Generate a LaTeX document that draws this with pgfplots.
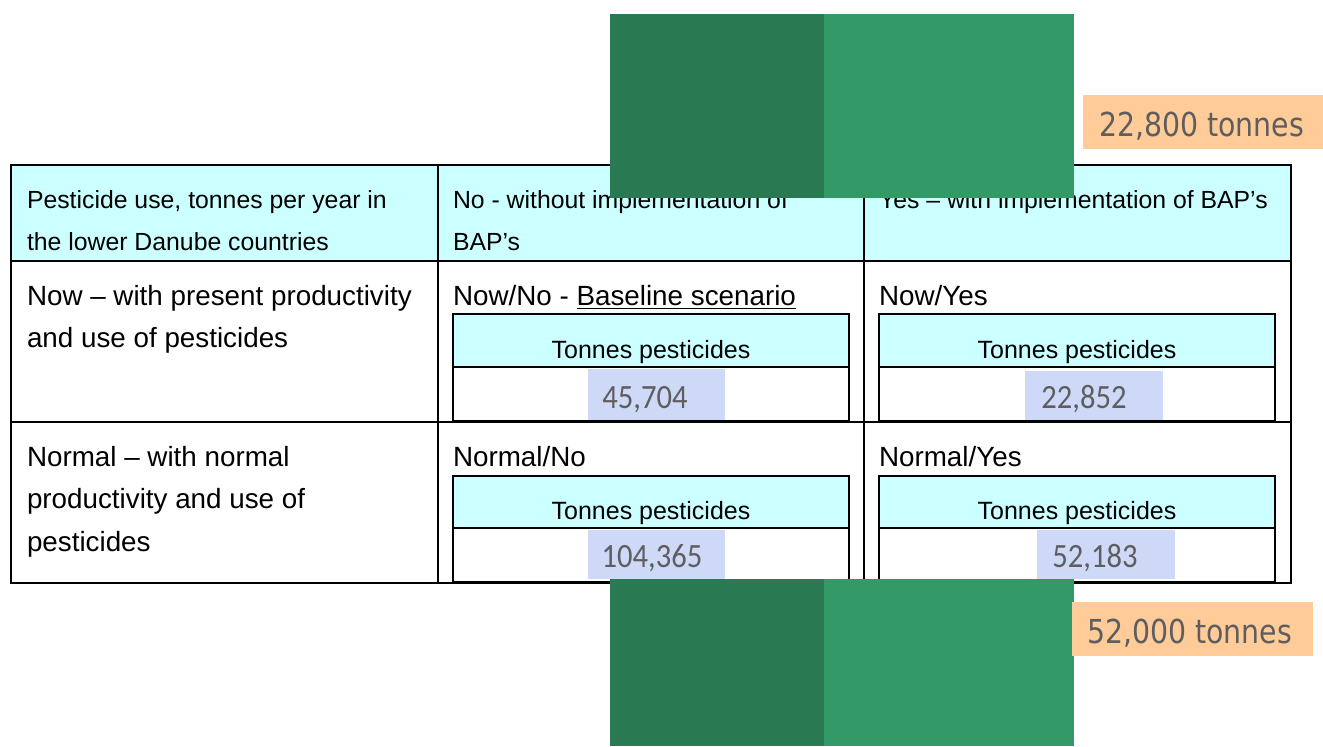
\documentclass[border=0pt]{standalone}
\usepackage{fontspec}
\setmainfont{Liberation Sans}
\newfontfamily\numfont{Carlito}[FakeStretch=0.9]
\newfontfamily\tonfont{DejaVu Sans}[FakeStretch=0.86]
\usepackage{pgfplots}
\pgfplotsset{compat=1.18}

\definecolor{hdrcyan}{HTML}{CCFFFF}
\definecolor{dkgreen}{HTML}{297A52}
\definecolor{ltgreen}{HTML}{339966}
\definecolor{tagorange}{HTML}{FFCC99}
\definecolor{lavender}{HTML}{CED8F7}
\definecolor{numgrey}{HTML}{5E5E5E}

\newcommand{\hdr}{\fontsize{12.4}{15}\selectfont}
\newcommand{\cell}{\fontsize{13.9}{17}\selectfont}
\newcommand{\inner}{\fontsize{12.5}{15}\selectfont}
\newcommand{\num}{\numfont\fontsize{17}{20}\selectfont\color{numgrey}}
\newcommand{\ton}{\tonfont\fontsize{16.5}{20}\selectfont\color{numgrey}}

\tikzset{txt/.style={inner sep=0pt, outer sep=0pt}}

\begin{document}
\begin{tikzpicture}
\begin{axis}[
    x=0.5pt, y=0.5pt, y dir=reverse,
    xmin=0, xmax=1323, ymin=0, ymax=746,
    hide axis, clip=false,
]
% keep the full canvas in the bounding box
\addplot[draw=none] coordinates {(0,0) (1323,746)};

% header band
\addplot[draw=none, fill=hdrcyan] coordinates {(11,165) (1291,165) (1291,261) (11,261)} -- cycle;

% table grid
\addplot[black, line width=1pt] coordinates {(11,165) (1291,165) (1291,583) (11,583)} -- cycle;
\addplot[black, line width=1pt] coordinates {(438,165) (438,583)};
\addplot[black, line width=1pt] coordinates {(864,165) (864,583)};
\addplot[black, line width=1pt] coordinates {(11,261) (1291,261)};
\addplot[black, line width=1pt] coordinates {(11,422) (1291,422)};

% inner boxes: cyan tops
\addplot[draw=none, fill=hdrcyan] coordinates {(453,314) (849,314) (849,367) (453,367)} -- cycle;
\addplot[draw=none, fill=hdrcyan] coordinates {(879,314) (1275,314) (1275,367) (879,367)} -- cycle;
\addplot[draw=none, fill=hdrcyan] coordinates {(453,476) (849,476) (849,528) (453,528)} -- cycle;
\addplot[draw=none, fill=hdrcyan] coordinates {(879,476) (1275,476) (1275,528) (879,528)} -- cycle;

% lavender number boxes
\addplot[draw=none, fill=lavender] coordinates {(588,369) (725,369) (725,421) (588,421)} -- cycle;
\addplot[draw=none, fill=lavender] coordinates {(1025,371) (1163,371) (1163,421) (1025,421)} -- cycle;
\addplot[draw=none, fill=lavender] coordinates {(588,530) (725,530) (725,579) (588,579)} -- cycle;
\addplot[draw=none, fill=lavender] coordinates {(1037,530) (1175,530) (1175,579) (1037,579)} -- cycle;

% inner box borders
\addplot[black, line width=1pt] coordinates {(453,314) (849,314) (849,421) (453,421)} -- cycle;
\addplot[black, line width=1pt] coordinates {(879,314) (1275,314) (1275,421) (879,421)} -- cycle;
\addplot[black, line width=1pt] coordinates {(453,476) (849,476) (849,582) (453,582)} -- cycle;
\addplot[black, line width=1pt] coordinates {(879,476) (1275,476) (1275,582) (879,582)} -- cycle;
\addplot[black, line width=1.4pt] coordinates {(453,421) (849,421)};
\addplot[black, line width=1.4pt] coordinates {(879,421) (1275,421)};
\addplot[black, line width=1.4pt] coordinates {(453,582) (849,582)};
\addplot[black, line width=1.4pt] coordinates {(879,582) (1275,582)};
\addplot[black, line width=1pt] coordinates {(453,367) (849,367)};
\addplot[black, line width=1pt] coordinates {(879,367) (1275,367)};
\addplot[black, line width=1pt] coordinates {(453,528) (849,528)};
\addplot[black, line width=1pt] coordinates {(879,528) (1275,528)};

% header text
\node[txt, anchor=base west, font=\hdr] at (axis cs:27,208) {Pesticide use, tonnes per year in};
\node[txt, anchor=base west, font=\hdr] at (axis cs:27,250) {the lower Danube countries};
\node[txt, anchor=base west, font=\hdr] at (axis cs:453,208) {No - without implementation of};
\node[txt, anchor=base west, font=\hdr] at (axis cs:453,250) {BAP’s};
\node[txt, anchor=base west, font=\hdr] at (axis cs:879,208) {Yes – with implementation of BAP’s};

% row 1
\node[txt, anchor=base west, font=\cell] at (axis cs:27,305) {Now – with present productivity};
\node[txt, anchor=base west, font=\cell] at (axis cs:27,347) {and use of pesticides};
\node[txt, anchor=base west, font=\cell] at (axis cs:453,305) {Now/No - \underline{Baseline scenario}};
\node[txt, anchor=base west, font=\cell] at (axis cs:879,305) {Now/Yes};
\node[txt, anchor=base, font=\inner] at (axis cs:651,358) {Tonnes pesticides};
\node[txt, anchor=base, font=\inner] at (axis cs:1077,358) {Tonnes pesticides};
\node[txt, anchor=base, font=\num] at (axis cs:645,408) {45,704};
\node[txt, anchor=base, font=\num] at (axis cs:1084,408) {22,852};

% row 2
\node[txt, anchor=base west, font=\cell] at (axis cs:27,466) {Normal – with normal};
\node[txt, anchor=base west, font=\cell] at (axis cs:27,508) {productivity and use of};
\node[txt, anchor=base west, font=\cell] at (axis cs:27,551) {pesticides};
\node[txt, anchor=base west, font=\cell] at (axis cs:453,466) {Normal/No};
\node[txt, anchor=base west, font=\cell] at (axis cs:879,466) {Normal/Yes};
\node[txt, anchor=base, font=\inner] at (axis cs:651,519) {Tonnes pesticides};
\node[txt, anchor=base, font=\inner] at (axis cs:1077,519) {Tonnes pesticides};
\node[txt, anchor=base, font=\num] at (axis cs:652,567) {104,365};
\node[txt, anchor=base, font=\num] at (axis cs:1095,567) {52,183};

% green blocks on top
\addplot[draw=none, fill=dkgreen] coordinates {(610,14) (824,14) (824,198) (610,198)} -- cycle;
\addplot[draw=none, fill=ltgreen] coordinates {(824,14) (1074,14) (1074,198) (824,198)} -- cycle;
\addplot[draw=none, fill=dkgreen] coordinates {(610,579) (824,579) (824,746) (610,746)} -- cycle;
\addplot[draw=none, fill=ltgreen] coordinates {(824,579) (1074,579) (1074,746) (824,746)} -- cycle;

% orange tags
\addplot[draw=none, fill=tagorange] coordinates {(1083,95) (1323,95) (1323,149) (1083,149)} -- cycle;
\addplot[draw=none, fill=tagorange] coordinates {(1072,602) (1313,602) (1313,656) (1072,656)} -- cycle;
\node[txt, anchor=base west, font=\ton] at (axis cs:1099,136) {22,800 tonnes};
\node[txt, anchor=base west, font=\ton] at (axis cs:1087,643) {52,000 tonnes};
\end{axis}
\end{tikzpicture}
\end{document}
